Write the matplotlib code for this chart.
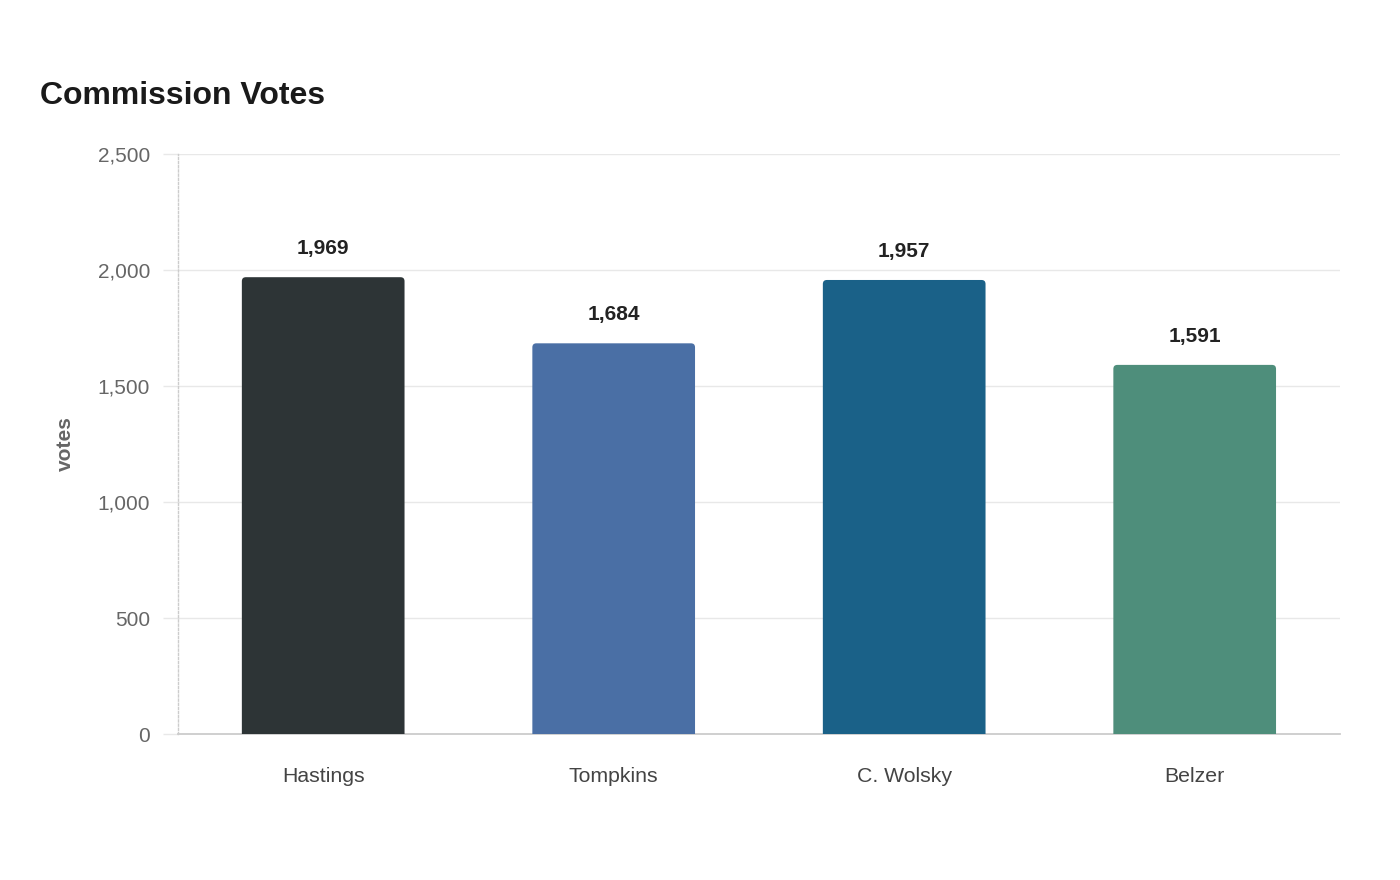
import matplotlib.pyplot as plt
from matplotlib.patches import FancyBboxPatch
from matplotlib.ticker import FuncFormatter

# data
candidates = ['Hastings', 'Tompkins', 'C. Wolsky', 'Belzer']
votes = [1969, 1684, 1957, 1591]
colors = ['#2d3436', '#4a6fa5', '#1a6188', '#4e8e7b']

plt.rcParams['font.family'] = ['Liberation Sans', 'DejaVu Sans']

fig = plt.figure(figsize=(14, 8.8), dpi=100)
ax = fig.add_axes([0.1271, 0.1659, 0.8300, 0.6591])

ax.set_xlim(-0.5, len(candidates) - 0.5)
ax.set_ylim(0, 2500)

# rounded bars: pixel -> data aspect so the corners stay round
bw = 0.56
fig.canvas.draw()
px_x = ax.transData.transform((1, 0))[0] - ax.transData.transform((0, 0))[0]
px_y = ax.transData.transform((0, 1))[1] - ax.transData.transform((0, 0))[1]
aspect = px_x / px_y
r = 4 / px_x
for i, (v, c) in enumerate(zip(votes, colors)):
    extra = r * aspect
    box = FancyBboxPatch((i - bw / 2, -extra), bw, v + extra,
                         boxstyle=f"round,pad=0,rounding_size={r}",
                         mutation_aspect=aspect, facecolor=c, edgecolor='none',
                         zorder=3, clip_on=True)
    ax.add_patch(box)
    ax.annotate(f"{v:,}", (i, v), xytext=(0, 20.5), textcoords='offset points',
                ha='center', va='center', fontsize=15, fontweight='bold',
                color='#222222')

ax.set_xticks(range(len(candidates)))
ax.set_xticklabels(candidates)
ax.set_yticks([0, 500, 1000, 1500, 2000, 2500])
ax.yaxis.set_major_formatter(FuncFormatter(lambda x, p: f"{int(x):,}"))

ax.grid(axis='y', color='#e8e8e8', linewidth=1, zorder=0)
ax.set_axisbelow(True)
ax.tick_params(axis='x', length=0, pad=24, labelsize=15.3, labelcolor='#444444')
ax.tick_params(axis='y', length=11, width=1, color='#e8e8e8', pad=9,
               labelsize=15, labelcolor='#666666')

for s in ['top', 'right']:
    ax.spines[s].set_visible(False)
ax.spines['left'].set_color('#cccccc')
ax.spines['left'].set_linestyle((0, (1.5, 1.5)))
ax.spines['left'].set_linewidth(1)
ax.spines['bottom'].set_color('#cccccc')
ax.spines['bottom'].set_linewidth(1.3)

ax.set_ylabel('votes', fontsize=15, fontweight='bold', color='#666666')
ax.yaxis.set_label_coords(-0.0887, 0.5)

fig.text(40 / 1400, 1 - 96 / 880, 'Commission Votes', fontsize=23,
         fontweight='bold', color='#1a1a1a', ha='left', va='center')

fig.savefig('out.png', dpi=100)
